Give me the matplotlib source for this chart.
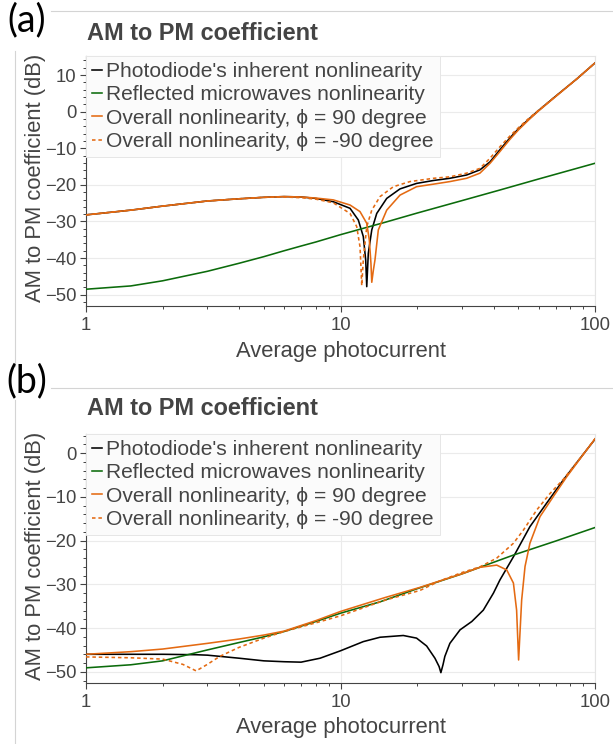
import matplotlib
matplotlib.use("Agg")
import matplotlib.pyplot as plt
from matplotlib.lines import Line2D
from matplotlib.ticker import FixedLocator, MultipleLocator, NullFormatter

# ---------------- data ----------------
legend_labels = ["Photodiode's inherent nonlinearity",
                 "Reflected microwaves nonlinearity",
                 "Overall nonlinearity, \u03d5 = 90 degree",
                 "Overall nonlinearity, \u03d5 = -90 degree"]

# panel (a)
a_pd_x = [1, 1.5, 2, 3, 4, 5, 6, 7, 8, 9.37, 10.9, 11.75, 12.29, 12.56, 12.68, 12.86, 13.27, 13.88,
          15.19, 17.13, 19.9, 23.2, 26.9, 31.3, 35.3, 38.7, 42.3, 46.4, 50, 55, 60, 70, 85, 100]
a_pd_y = [-28.2, -26.9, -25.8, -24.4, -23.8, -23.4, -23.2, -23.3, -23.7, -24.6, -26.4, -29.6, -34.1,
          -40.5, -47.8, -38.7, -32.3, -27.8, -23.7, -21.1, -19.6, -18.8, -18.2, -17.3, -15.9, -13.7,
          -10.4, -7.1, -4.7, -2.0, 0.3, 4.2, 9.0, 13.3]
a_rm_x = [1, 1.5, 2, 3, 4, 5, 6, 7, 8, 10, 15, 20, 30, 42.3, 60, 100]
a_rm_y = [-48.5, -47.6, -46.2, -43.6, -41.4, -39.6, -38.0, -36.7, -35.6, -33.6, -30.2, -27.7, -24.3,
          -21.4, -18.4, -14.1]
a_p90_x = [1, 1.5, 2, 3, 4, 5, 6, 7, 8, 9.37, 10.9, 11.93, 12.68, 12.98, 13.17, 13.27, 13.45, 13.66,
           14.08, 15.19, 17.13, 19.9, 23.2, 26.9, 31.3, 35.3, 38.7, 42.3, 46.4, 50, 55, 60, 70, 85, 100]
a_p90_y = [-28.2, -26.9, -25.8, -24.4, -23.8, -23.4, -23.2, -23.3, -23.6, -24.1, -25.5, -27.3, -30.5,
           -35.1, -41.4, -46.6, -43.5, -40.5, -32.3, -26.9, -22.8, -20.5, -19.8, -19.1, -18.2, -16.8,
           -14.1, -10.9, -7.5, -5.0, -2.2, 0.2, 4.1, 9.0, 13.3]
a_m90_x = [1, 1.5, 2, 3, 4, 5, 6, 7, 8, 9.37, 10.9, 11.58, 11.93, 12.03, 12.12, 12.29, 12.68, 13.27,
           14.3, 16.13, 18.75, 23.2, 26.9, 31.3, 35.3, 38.7, 42.3, 46.4, 50, 55, 60, 70, 85, 100]
a_m90_y = [-28.2, -26.9, -25.8, -24.4, -23.8, -23.4, -23.3, -23.5, -23.9, -24.9, -27.8, -31.4, -36.9,
           -42.3, -47.5, -40.5, -31.4, -26.9, -23.2, -20.5, -19.1, -18.2, -17.8, -16.8, -15.5, -12.7,
           -9.6, -6.6, -4.4, -1.8, 0.4, 4.2, 9.0, 13.3]

# panel (b)
b_pd_x = [1, 1.5, 2, 2.71, 3, 4, 5, 6, 7, 8.31, 10, 12.29, 14.3, 17.65, 19.9, 21.8, 23.5, 24.4, 24.8,
          25.3, 25.7, 26.9, 29.5, 32.8, 36.4, 39.9, 42.3, 47.8, 55.5, 64.6, 75.1, 92.7, 100]
b_pd_y = [-46.0, -46.0, -46.0, -46.1, -46.2, -46.9, -47.5, -47.7, -47.8, -46.9, -45.2, -43.1, -42.1,
          -41.7, -42.3, -44.1, -46.9, -48.8, -50.2, -48.3, -46.5, -43.5, -40.4, -38.5, -35.9, -32.0,
          -29.0, -23.7, -16.8, -11.4, -6.1, 0.75, 3.2]
b_rm_x = [1, 1.5, 2, 3, 4, 5, 6, 8, 10, 14.3, 20, 30, 47.8, 70, 100]
b_rm_y = [-49.1, -48.4, -47.5, -45.0, -43.3, -42.0, -40.8, -38.5, -36.6, -34.0, -31.0, -27.6, -23.3,
          -20.1, -17.0]
b_p90_x = [1, 1.5, 2, 3, 4, 5, 6, 8, 10, 15, 20.5, 24.6, 30, 35.3, 41.1, 45, 47.8, 49.2, 50.1, 51.5,
           53.1, 55.5, 60.8, 68.6, 77.4, 92.7, 100]
b_p90_y = [-46.0, -45.4, -44.8, -43.5, -42.5, -41.6, -40.7, -38.3, -36.2, -33.0, -30.7, -29.2, -27.6,
           -26.1, -25.6, -26.7, -29.7, -35.9, -47.3, -33.6, -25.9, -20.6, -14.5, -9.9, -5.4, 0.75, 3.3]
b_m90_x = [1, 1.5, 2, 2.4, 2.71, 3, 3.35, 4, 5, 6, 8, 10, 15, 20.5, 24.6, 30, 35.3, 41.1, 47.8, 52.3,
           59, 66.6, 75, 92.7, 100]
b_m90_y = [-46.6, -46.8, -47.1, -48.3, -49.8, -48.3, -46.5, -44.4, -42.3, -40.8, -38.8, -37.2, -33.6,
           -31.4, -29.2, -27.3, -26.0, -24.0, -20.6, -17.6, -13.0, -9.2, -6.0, 0.75, 3.3]

x_ticks = [1, 10, 100]
x_tick_labels = ["1", "10", "100"]
title = "AM to PM coefficient"
x_title = "Average photocurrent"
y_title = "AM to PM coefficient (dB)"
panel_tags = ["(a)", "(b)"]

# ---------------- style ----------------
W, H = 613, 744
DPI = 100
TXT = "#444444"
GRID = "#ebebeb"
C_PD = "#000000"
C_RM = "#0b6b0b"
C_OV = "#e46a12"
FONT = "Liberation Sans"

plt.rcParams["font.family"] = [FONT, "DejaVu Sans"]

fig = plt.figure(figsize=(W / DPI, H / DPI), dpi=DPI)
fig.patch.set_facecolor("white")


def px2fx(x):
    return x / W


def px2fy(y):
    return 1 - y / H


ax_left, ax_right = 86, 595
panels = [
    dict(top=56, bottom=305.7, ylim=(-53, 15.2), data=(a_pd_x, a_pd_y, a_rm_x, a_rm_y, a_p90_x, a_p90_y, a_m90_x, a_m90_y),
         title_y=33, xlab_y=352, tag_y=20, ylab_y=178),
    dict(top=434, bottom=682.7, ylim=(-52.5, 4.4), data=(b_pd_x, b_pd_y, b_rm_x, b_rm_y, b_p90_x, b_p90_y, b_m90_x, b_m90_y),
         title_y=409, xlab_y=727, tag_y=381, ylab_y=556),
]

for i, p in enumerate(panels):
    ax = fig.add_axes([px2fx(ax_left), px2fy(p["bottom"]), (ax_right - ax_left) / W, (p["bottom"] - p["top"]) / H])
    pdx, pdy, rmx, rmy, p9x, p9y, m9x, m9y = p["data"]
    lw = 1.15
    ax.plot(pdx, pdy, color=C_PD, lw=lw, label=legend_labels[0], zorder=3)
    ax.plot(rmx, rmy, color=C_RM, lw=lw, label=legend_labels[1], zorder=3)
    ax.plot(p9x, p9y, color=C_OV, lw=lw, label=legend_labels[2], zorder=4)
    ax.plot(m9x, m9y, color=C_OV, lw=lw, ls=(0, (2.2, 1.8)), label=legend_labels[3], zorder=5)

    ax.set_xscale("log")
    ax.set_xlim(1, 100)
    ax.set_ylim(*p["ylim"])
    ax.xaxis.set_major_locator(FixedLocator(x_ticks))
    ax.set_xticklabels(x_tick_labels)
    ax.xaxis.set_minor_locator(FixedLocator([k * d for d in (1, 10) for k in range(2, 10)]))
    ax.xaxis.set_minor_formatter(NullFormatter())
    ax.yaxis.set_major_locator(MultipleLocator(10))
    ax.yaxis.set_minor_locator(MultipleLocator(2))

    ax.grid(True, which="major", color=GRID, lw=0.8, zorder=0)
    ax.set_axisbelow(True)
    for s in ("top", "right"):
        ax.spines[s].set_color("#e4e4e4")
        ax.spines[s].set_linewidth(0.8)
    for s in ("left", "bottom"):
        ax.spines[s].set_color(TXT)
        ax.spines[s].set_linewidth(0.8)
    ax.tick_params(which="major", direction="out", length=4.2, width=0.8, color=TXT,
                   labelcolor=TXT, labelsize=13.3, pad=2.5)
    ax.tick_params(which="minor", direction="out", length=2.4, width=0.7, color=TXT)
    ax.tick_params(axis="x", which="major", pad=4)

    leg = ax.legend(loc="upper left", bbox_to_anchor=(0, 1), borderaxespad=0, fontsize=15.1,
                    handlelength=0.48, handletextpad=0.18, labelspacing=0.2, borderpad=0.3,
                    fancybox=False, framealpha=1, facecolor="#fbfbfb", edgecolor="#e6e6e6")
    leg.get_frame().set_linewidth(0.7)
    for t in leg.get_texts():
        t.set_color(TXT)
    leg.set_zorder(10)

    fig.text(px2fx(87), px2fy(p["title_y"]), title, fontsize=16.9, fontweight="bold", color=TXT,
             ha="left", va="center")
    fig.text(px2fx((ax_left + ax_right) / 2), px2fy(p["xlab_y"]), x_title, fontsize=15.8, color=TXT,
             ha="center", va="center")
    fig.text(px2fx(36), px2fy(p["ylab_y"]), y_title, fontsize=15.8, color=TXT, rotation=90,
             ha="center", va="center")
    fig.text(px2fx(27), px2fy(p["tag_y"]), panel_tags[i], fontsize=27, color="black",
             family=["Lato", "DejaVu Sans"], ha="center", va="center")

# screenshot frame lines
frame_c = "#d4d4d4"
fig.add_artist(Line2D([px2fx(51), 1], [px2fy(11), px2fy(11)], color=frame_c, lw=0.8))
fig.add_artist(Line2D([px2fx(15), px2fx(15)], [px2fy(51), px2fy(366)], color=frame_c, lw=0.8))
fig.add_artist(Line2D([px2fx(51), 1], [px2fy(388), px2fy(388)], color=frame_c, lw=0.8))
fig.add_artist(Line2D([px2fx(15), px2fx(15)], [px2fy(400), 0], color=frame_c, lw=0.8))

fig.savefig("out.png", dpi=DPI, facecolor="white")
